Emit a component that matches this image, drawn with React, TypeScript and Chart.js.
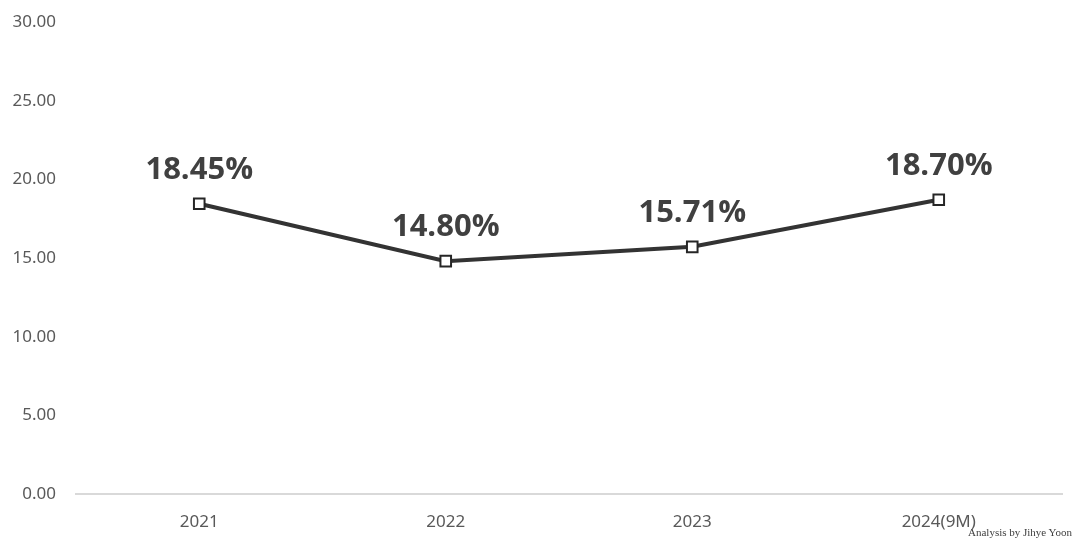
import React, { useEffect, useRef } from "react";
import { Chart, registerables } from "chart.js";

Chart.register(...registerables);

const categories = ["2021", "2022", "2023", "2024(9M)"];
const values = [18.45, 14.8, 15.71, 18.7];
const valueLabels = ["18.45%", "14.80%", "15.71%", "18.70%"];
const yTicks = [0, 5, 10, 15, 20, 25, 30];

const dataLabelPlugin = {
  id: "dataLabels",
  afterDatasetsDraw(chart: any) {
    const ctx = chart.ctx;
    const meta = chart.getDatasetMeta(0);
    ctx.save();
    ctx.font = "bold 31px 'Open Sans', 'Noto Sans', sans-serif";
    ctx.fillStyle = "#404040";
    ctx.textAlign = "center";
    ctx.textBaseline = "middle";
    meta.data.forEach((pt: any, i: number) => {
      ctx.fillText(valueLabels[i], pt.x, pt.y - 34);
    });
    ctx.restore();
  },
};

export default function App() {
  const ref = useRef<HTMLCanvasElement | null>(null);
  useEffect(() => {
    if (!ref.current) return;
    const chart = new Chart(ref.current, {
      type: "line",
      data: {
        labels: categories,
        datasets: [
          {
            data: values,
            borderColor: "#333333",
            borderWidth: 4,
            pointStyle: "rect",
            pointRadius: 7.5,
            pointBorderWidth: 2,
            pointBackgroundColor: "#ffffff",
            pointBorderColor: "#262626",
            tension: 0,
          },
        ],
      },
      options: {
        animation: false,
        responsive: false,
        maintainAspectRatio: false,
        layout: { autoPadding: false, padding: { left: 0, right: 22, top: 22, bottom: 0 } },
        plugins: {
          legend: { display: false },
          tooltip: { enabled: false },
        },
        scales: {
          x: {
            offset: true,
            grid: { display: false, drawTicks: false },
            border: { display: true, color: "#d9d9d9", width: 2 },
            ticks: {
              color: "#595959",
              font: { size: 17, family: "'Noto Sans', 'Open Sans', sans-serif" },
              padding: 18,
            },
            afterFit: (s: any) => {
              s.height = 48;
            },
          },
          y: {
            min: 0,
            max: 30,
            afterBuildTicks: (s: any) => {
              s.ticks = yTicks.map((v) => ({ value: v }));
            },
            grid: { display: false, drawTicks: false },
            border: { display: false },
            ticks: {
              color: "#595959",
              font: { size: 17, family: "'Noto Sans', 'Open Sans', sans-serif" },
              padding: 20,
              callback: (v: any) => Number(v).toFixed(2),
            },
            afterFit: (s: any) => {
              s.width = 76;
              s.paddingTop = 10;
              s.paddingBottom = 10;
            },
          },
        },
      },
      plugins: [dataLabelPlugin],
    });
    return () => chart.destroy();
  }, []);
  return (
    <div style={{ position: "absolute", left: 0, top: 0, width: 1084, height: 542, background: "#fff" }}>
      <canvas ref={ref} width={1084} height={542} style={{ display: "block" }} />
      <div
        style={{
          position: "absolute",
          left: 968,
          top: 526,
          fontFamily: "'Liberation Serif', serif",
          fontSize: 11,
          color: "#404040",
          whiteSpace: "nowrap",
        }}
      >
        Analysis by Jihye Yoon
      </div>
    </div>
  );
}
